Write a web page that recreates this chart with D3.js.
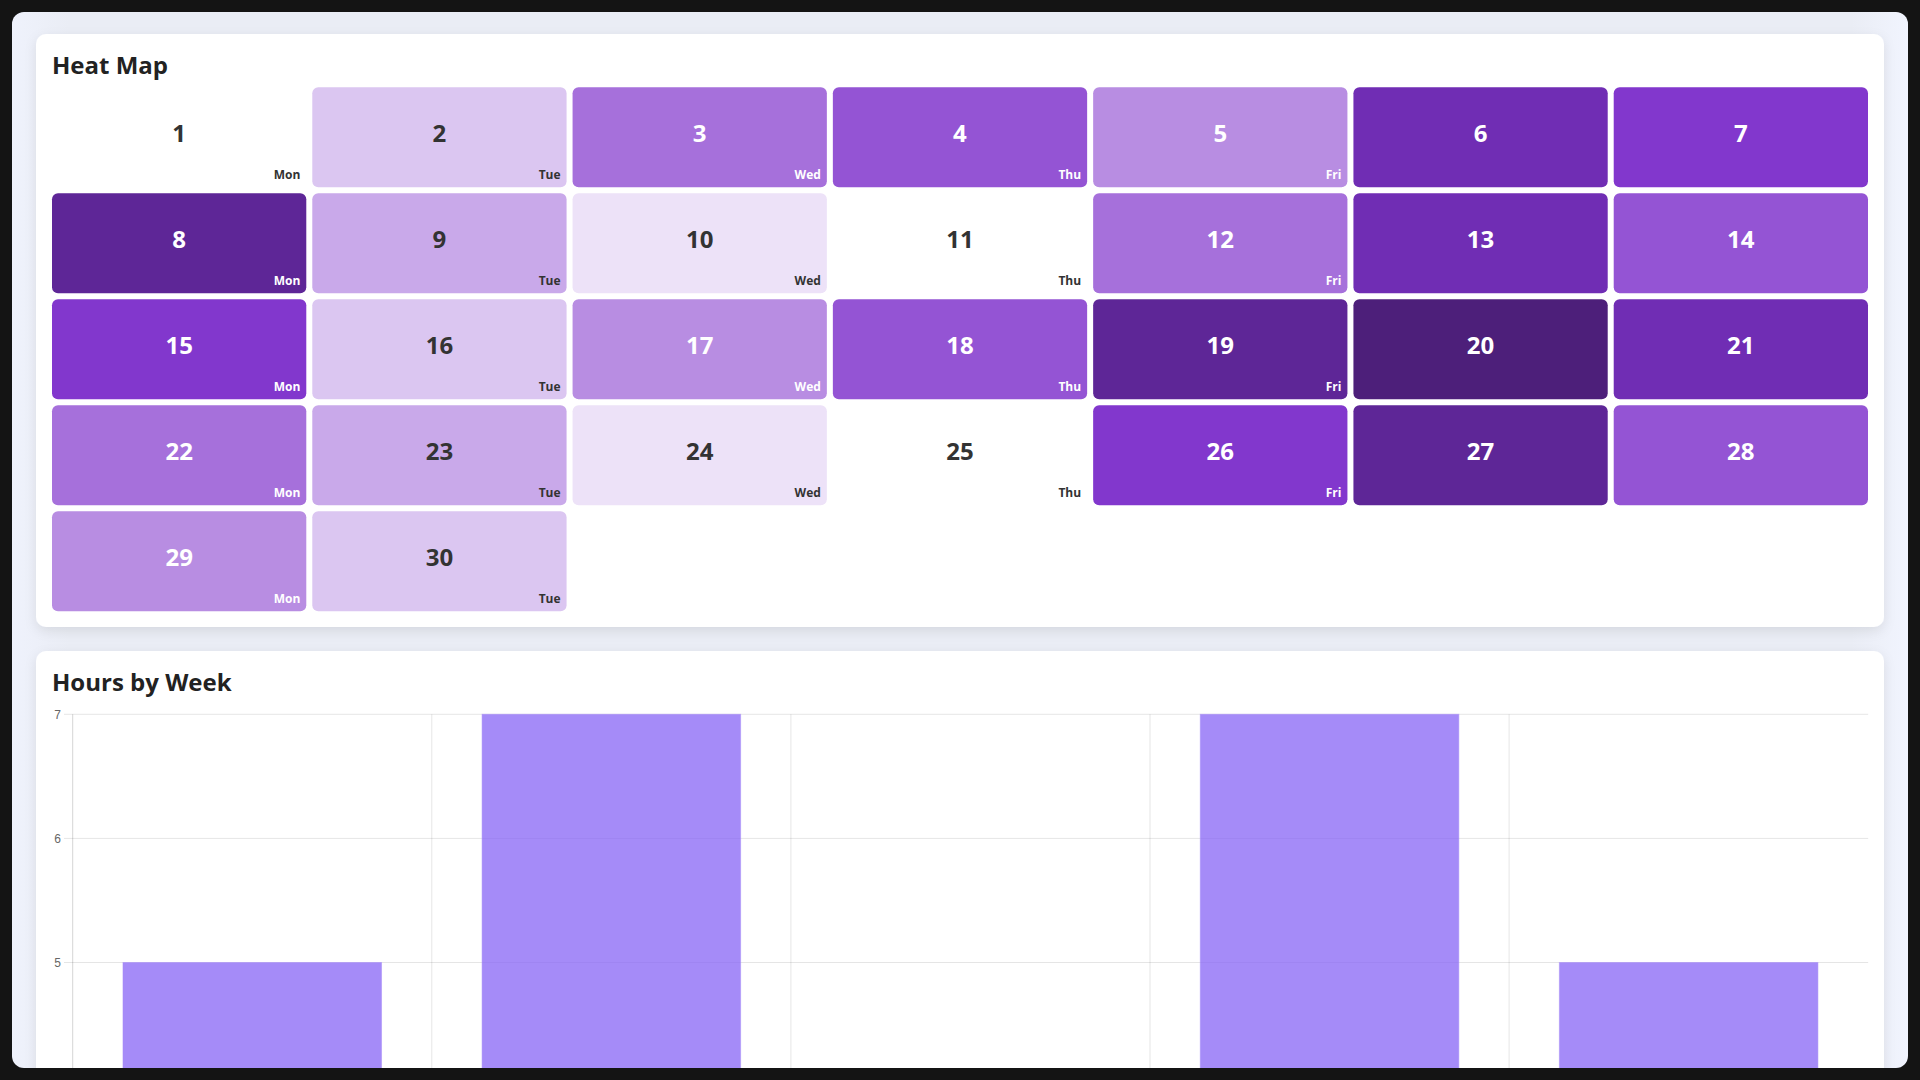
<!DOCTYPE html>
<html>
<head>
<meta charset="utf-8">
<script src="https://cdn.jsdelivr.net/npm/d3@7"></script>
<style>
html,body{margin:0;padding:0;background:#141414;overflow:hidden}
svg{display:block}
</style>
</head>
<body>
<svg id="chart" width="1920" height="1080"></svg>
<script>
// ---- data ----
const dayNumbers = [1,2,3,4,5,6,7,8,9,10,11,12,13,14,15,16,17,18,19,20,21,22,23,24,25,26,27,28,29,30];
const dayValues  = [0,2,5,6,4,8,7, 9,3,1,0,5,8,6, 7,2,4,6,9,10,8, 5,3,1,0,7,9,6, 4,2];
const weekdayLabels = ["Mon","Tue","Wed","Thu","Fri","",""];
const weekLabels = ["Week 1","Week 2","Week 3","Week 4","Week 5"];
const weekHours = [5,7,4,7,5];
const hourTicks = [5,6,7];

const svg = d3.select("#chart");
const defs = svg.append("defs");

const bgGrad = defs.append("linearGradient").attr("id","bgGrad").attr("x1","0").attr("x2","1").attr("y1","0").attr("y2","0");
bgGrad.append("stop").attr("offset","0").attr("stop-color","#eff2fc");
bgGrad.append("stop").attr("offset","0.03").attr("stop-color","#eaedf5");
bgGrad.append("stop").attr("offset","0.97").attr("stop-color","#eaedf5");
bgGrad.append("stop").attr("offset","1").attr("stop-color","#f1f4fe");

const shadow = defs.append("filter").attr("id","shadow").attr("x","-5%").attr("y","-10%").attr("width","110%").attr("height","130%");
shadow.append("feDropShadow").attr("dx",0).attr("dy",4).attr("stdDeviation",6)
  .attr("flood-color","#000").attr("flood-opacity",0.09);

defs.append("clipPath").attr("id","containerClip")
  .append("rect").attr("x",12).attr("y",12).attr("width",1896).attr("height",1056).attr("rx",12);

const root = svg.append("g").attr("clip-path","url(#containerClip)");
root.append("rect").attr("x",12).attr("y",12).attr("width",1896).attr("height",1056).attr("fill","url(#bgGrad)");

// ---- cards ----
root.append("rect").attr("x",36).attr("y",34).attr("width",1848).attr("height",593).attr("rx",10)
  .attr("fill","#fff").attr("filter","url(#shadow)");
root.append("rect").attr("x",36).attr("y",651).attr("width",1848).attr("height",600).attr("rx",10)
  .attr("fill","#fff").attr("filter","url(#shadow)");

root.append("text").attr("x",52).attr("y",74).text("Heat Map")
  .attr("font-family","'Open Sans', 'Noto Sans', sans-serif").attr("font-weight",700)
  .attr("font-size",24).attr("fill","#222");
root.append("text").attr("x",52).attr("y",691).text("Hours by Week")
  .attr("font-family","'Open Sans', 'Noto Sans', sans-serif").attr("font-weight",700)
  .attr("font-size",24).attr("fill","#222");

// ---- heat map ----
const col = d3.scaleBand().domain(d3.range(7)).range([52,1868]).paddingInner(6/260.29);
const row = d3.scaleBand().domain(d3.range(5)).range([87.3,611.3]).paddingInner(6/106);
const light = d3.scaleLinear().domain([0,10]).range([1.0,0.30]);
const fillFor = v => d3.hsl(270,0.6,light(v)).formatHex();
const textFor = v => v >= 4 ? "#ffffff" : "#333333";

const cells = root.append("g").selectAll("g").data(dayNumbers).join("g")
  .attr("transform",(d,i)=>`translate(${col(i%7)},${row(Math.floor(i/7))})`);
cells.append("rect").attr("width",col.bandwidth()).attr("height",row.bandwidth()).attr("rx",6)
  .attr("fill",(d,i)=>fillFor(dayValues[i]));
cells.append("text").attr("x",col.bandwidth()/2).attr("y",55).attr("text-anchor","middle")
  .attr("font-family","'Open Sans', 'Noto Sans', sans-serif").attr("font-weight",700).attr("font-size",24)
  .attr("fill",(d,i)=>textFor(dayValues[i])).text(d=>d);
cells.append("text").attr("x",col.bandwidth()-6).attr("y",row.bandwidth()-8.5).attr("text-anchor","end")
  .attr("font-family","'Open Sans', 'Noto Sans', sans-serif").attr("font-weight",700).attr("font-size",12)
  .attr("fill",(d,i)=>textFor(dayValues[i])).text((d,i)=>weekdayLabels[i%7]);

// ---- bar chart ----
const x = d3.scaleBand().domain(weekLabels).range([72.7,1868.2]).padding(0);
const y = d3.scaleLinear().domain([4,7]).range([1086.6,714.3]);
const chart = root.append("g");

// horizontal grid + tick marks
chart.append("g").selectAll("line").data(hourTicks).join("line")
  .attr("x1",64).attr("x2",1868.2).attr("y1",d=>y(d)).attr("y2",d=>y(d))
  .attr("stroke","rgba(0,0,0,0.1)").attr("stroke-width",1);
// vertical grid
chart.append("g").selectAll("line").data(weekLabels.slice(1)).join("line")
  .attr("x1",d=>x(d)).attr("x2",d=>x(d)).attr("y1",714.3).attr("y2",1100)
  .attr("stroke","rgba(0,0,0,0.1)").attr("stroke-width",1);
// axis line
chart.append("line").attr("x1",x.range()[0]).attr("x2",x.range()[0]).attr("y1",714.3).attr("y2",1100)
  .attr("stroke","rgba(0,0,0,0.17)").attr("stroke-width",1);

// bars
const bw = x.bandwidth()*0.72;
chart.append("g").selectAll("rect").data(weekHours).join("rect")
  .attr("x",(d,i)=>x(weekLabels[i])+(x.bandwidth()-bw)/2)
  .attr("width",bw)
  .attr("y",d=>y(d))
  .attr("height",d=>y.range()[0]-y(d))
  .attr("fill","rgba(135,100,245,0.75)")
  .attr("stroke","rgba(167,139,250,0.5)").attr("stroke-width",1);

// y tick labels
chart.append("g").selectAll("text").data(hourTicks).join("text")
  .attr("x",61).attr("y",d=>y(d)).attr("dy","0.35em").attr("text-anchor","end")
  .attr("font-family","'Liberation Sans', Arial, sans-serif").attr("font-size",12).attr("fill","#666")
  .text(d=>d);
</script>
</body>
</html>
